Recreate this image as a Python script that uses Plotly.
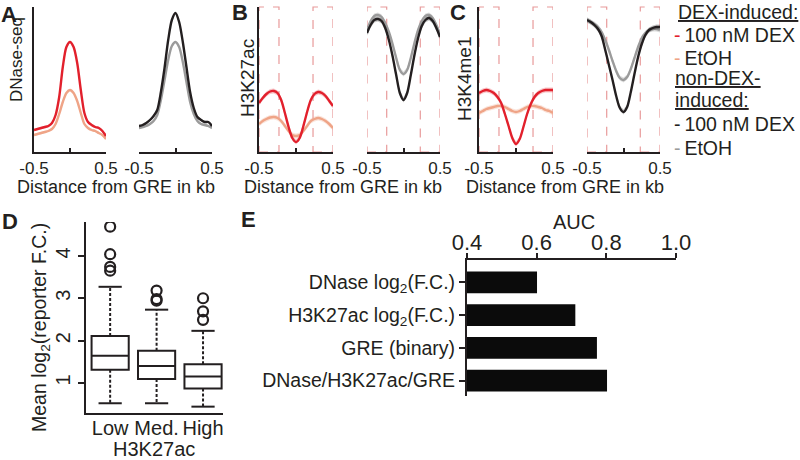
import plotly.graph_objects as go

FONT = "Liberation Sans, Arial, sans-serif"
INK = "#231f20"
W, H = 800, 460

# ---- profile data (A-C): signal vs distance from GRE, arbitrary units
dist_kb = [-0.5, -0.45, -0.4, -0.35, -0.3, -0.25, -0.2, -0.15, -0.1, -0.05, 0,
           0.05, 0.1, 0.15, 0.2, 0.25, 0.3, 0.35, 0.4, 0.45, 0.5]

dnase_ind_dex = [22, 23, 24, 25, 26, 29, 37, 55, 85, 105, 110, 105, 89, 62, 39, 30, 27, 25, 24, 21, 16]
dnase_ind_etoh = [17, 18, 19, 20, 21, 23, 28, 38, 50, 59, 62, 59, 51, 39, 28, 24, 22, 21, 19, 17, 13]
dnase_non_dex = [26, 27, 29, 32, 36, 42, 60, 84, 112, 132, 139, 130, 110, 85, 60, 44, 35, 32, 30, 30, 26]
dnase_non_etoh = [24, 25, 26, 28, 31, 37, 52, 72, 92, 106, 110, 105, 90, 70, 50, 38, 31, 28, 27, 26, 24]

k27_ind_dex = [49, 54, 58, 60.5, 61, 59, 52, 39, 25, 14, 10, 14, 26, 40, 52, 58, 60, 59, 56, 51, 46]
k27_ind_etoh = [28, 31, 33, 34.5, 35, 34, 31, 26, 21, 17, 16, 17, 21, 26, 31, 33, 34, 33, 31, 28, 24]
k27_non_dex = [119, 127, 132, 133, 131, 124, 112, 96, 77, 59, 52, 59, 77, 97, 114, 126, 132, 134, 131, 124, 115]
k27_non_etoh = [122, 131, 136, 137, 135, 129, 120, 108, 94, 82, 78, 82, 94, 109, 122, 131, 136, 137, 134, 127, 118]

k4_ind_dex = [59, 61, 62, 61, 59, 55, 49, 38, 26, 14, 8, 13, 25, 38, 48, 55, 59, 61, 62, 62, 62]
k4_ind_etoh = [39, 41, 43, 44, 45, 46, 46, 45, 43, 41, 40, 41, 43, 45, 46, 46, 45, 44, 42, 41, 39]
k4_non_dex = [132, 130, 127, 123, 116, 102, 87, 72, 56, 44, 40, 45, 60, 78, 95, 108, 117, 122, 124, 125, 125]
k4_non_etoh = [132, 130, 128, 125, 120, 112, 102, 91, 81, 74, 72, 75, 83, 94, 105, 114, 119, 122, 123, 123, 122]

sem_dnase = 1.2
sem_histone = 2.5
flank_kb = [(-0.5, -0.23), (0.23, 0.5)]

# ---- D: box plot stats
box_groups = ["Low", "Med.", "High"]
box_q1 = [1.31, 1.09, 0.87]
box_median = [1.64, 1.40, 1.15]
box_q3 = [2.11, 1.76, 1.44]
whisker_low = [0.52, 0.52, 0.44]
whisker_high = [3.27, 2.73, 2.23]
outliers = [[4.69, 4.04, 3.74, 3.65], [3.18, 2.98, 2.94], [3.00, 2.69, 2.49]]

# ---- E: AUC
auc_features = ["DNase log<sub>2</sub>(F.C.)", "H3K27ac log<sub>2</sub>(F.C.)",
                "GRE (binary)", "DNase/H3K27ac/GRE"]
auc_values = [0.601, 0.711, 0.773, 0.802]

RED = "#e2202c"
SALMON = "#efa487"
BLACK = "#231f20"
GRAY = "#9b9b9b"
BANDS = {RED: "rgba(226,32,44,0.25)", SALMON: "rgba(239,164,135,0.3)",
         BLACK: "rgba(35,31,32,0.25)", GRAY: "rgba(155,155,155,0.35)"}


def fx(p):
    return p / W


def fy(p):
    return 1 - p / H


def ax(i, kind):
    return kind + ("" if i == 1 else str(i))


fig = go.Figure()

profile_panels = [
    (1, (34, 106), [(dnase_ind_etoh, SALMON), (dnase_ind_dex, RED)], True, False, sem_dnase),
    (2, (139, 212), [(dnase_non_etoh, GRAY), (dnase_non_dex, BLACK)], False, False, sem_dnase),
    (3, (259, 333), [(k27_ind_etoh, SALMON), (k27_ind_dex, RED)], True, True, sem_histone),
    (4, (367, 440), [(k27_non_etoh, GRAY), (k27_non_dex, BLACK)], False, True, sem_histone),
    (5, (479, 553), [(k4_ind_etoh, SALMON), (k4_ind_dex, RED)], True, True, sem_histone),
    (6, (587, 660), [(k4_non_etoh, GRAY), (k4_non_dex, BLACK)], False, True, sem_histone),
]

shapes = []
layout_axes = {}
for i, (x0, x1), series, yline, flanks, sem in profile_panels:
    for vals, col in series:
        upper = [v + sem for v in vals]
        lower = [v - sem for v in vals]
        fig.add_trace(go.Scatter(
            x=dist_kb + dist_kb[::-1], y=upper + lower[::-1], fill="toself",
            fillcolor=BANDS[col], line=dict(width=0), hoverinfo="skip",
            showlegend=False, xaxis=ax(i, "x"), yaxis=ax(i, "y")))
        fig.add_trace(go.Scatter(
            x=dist_kb, y=vals, mode="lines",
            line=dict(color=col, width=2.4, shape="spline", smoothing=0.8),
            showlegend=False, xaxis=ax(i, "x"), yaxis=ax(i, "y")))
    layout_axes[ax(i, "xaxis")] = dict(
        domain=[fx(x0), fx(x1)], anchor=ax(i, "y"), range=[-0.5001, 0.5001],
        tickvals=[-0.5, 0, 0.5], ticktext=["-0.5", " ", "0.5"], tickangle=0,
        ticks="inside", ticklen=4, tickwidth=1.5, tickcolor=INK,
        showline=True, linecolor=INK, linewidth=1.5, showgrid=False, zeroline=False,
        automargin=False, tickfont=dict(size=17, color=INK, family=FONT))
    layout_axes[ax(i, "yaxis")] = dict(
        domain=[fy(152), fy(7)], anchor=ax(i, "x"), range=[0, 145],
        showline=yline, linecolor=INK, linewidth=2, showticklabels=False,
        automargin=False, ticks="", showgrid=False, zeroline=False)
    if flanks:
        for a, b in flank_kb:
            shapes.append(dict(
                type="rect", xref=ax(i, "x"), yref=ax(i, "y") + " domain",
                x0=a, x1=b, y0=0, y1=1, layer="below",
                line=dict(color="#e89a9a", width=1.2, dash="dash")))

# ---- D: box plot
xd, yd = "x7", "y7"
fig.add_trace(go.Box(
    x=[0, 1, 2], q1=box_q1, median=box_median, q3=box_q3,
    lowerfence=box_q1, upperfence=box_q3, width=0.8,
    fillcolor="white", line=dict(color=INK, width=2), boxpoints=False,
    whiskerwidth=0, showlegend=False, xaxis=xd, yaxis=yd))
for k in range(len(box_groups)):
    for a, b in [(box_q3[k], whisker_high[k]), (box_q1[k], whisker_low[k])]:
        fig.add_trace(go.Scatter(
            x=[k, k], y=[a, b], mode="lines",
            line=dict(color=INK, width=2, dash="3px,2px"),
            showlegend=False, xaxis=xd, yaxis=yd))
    for w in (whisker_high[k], whisker_low[k]):
        fig.add_trace(go.Scatter(
            x=[k - 0.25, k + 0.25], y=[w, w], mode="lines",
            line=dict(color=INK, width=2), showlegend=False, xaxis=xd, yaxis=yd))
    fig.add_trace(go.Scatter(
        x=[k] * len(outliers[k]), y=outliers[k], mode="markers",
        marker=dict(symbol="circle-open", size=10, color=INK, line=dict(width=2.2)),
        showlegend=False, xaxis=xd, yaxis=yd))

layout_axes["xaxis7"] = dict(
    domain=[fx(86), fx(223)], anchor="y7", range=[-0.52, 2.43],
    tickvals=[0, 1, 2], ticktext=box_groups, ticks="", tickangle=0,
    ticklabelstandoff=-4, automargin=False,
    showline=True, linecolor=INK, linewidth=2, showgrid=False, zeroline=False,
    tickfont=dict(size=20, color=INK, family=FONT))
layout_axes["yaxis7"] = dict(
    domain=[fy(413), fy(222)], anchor="x7", range=[0.29, 4.8],
    tickvals=[1, 2, 3, 4], tickangle=-90, ticks="outside", ticklen=6,
    tickwidth=2, tickcolor=INK, showline=True, linecolor=INK, linewidth=2,
    automargin=False,
    showgrid=False, zeroline=False, tickfont=dict(size=20, color=INK, family=FONT))

# ---- E: AUC bars
fig.add_trace(go.Bar(
    x=auc_values, y=list(range(len(auc_features))), orientation="h", width=0.66,
    marker=dict(color="#0b0b0b", line=dict(width=0)), showlegend=False,
    xaxis="x8", yaxis="y8"))
layout_axes["xaxis8"] = dict(
    domain=[fx(467), fx(676)], anchor="y8", side="top", range=[0.4, 1.0],
    tickvals=[0.4, 0.6, 0.8, 1.0], ticktext=["0.4", "0.6", "0.8", "1.0"],
    ticks="outside", ticklen=5, tickwidth=1.5, tickcolor=INK,
    ticklabelstandoff=-6, automargin=False,
    showline=True, linecolor=INK, linewidth=2, showgrid=False, zeroline=False,
    tickfont=dict(size=22, color=INK, family=FONT))
layout_axes["yaxis8"] = dict(
    domain=[fy(396), fy(260)], anchor="x8", range=[3.47, -0.685],
    tickvals=list(range(len(auc_features))), ticktext=auc_features,
    ticks="outside", ticklen=6, tickwidth=2, tickcolor=INK, automargin=False,
    showline=True, linecolor=INK, linewidth=2, showgrid=False, zeroline=False,
    tickfont=dict(size=19.5, color=INK, family=FONT))

# ---- text
annotations = []


def note(text, x, y, size, angle=0, xanchor="center", color=INK):
    annotations.append(dict(
        text=text, x=fx(x), y=fy(y), xref="paper", yref="paper",
        xanchor=xanchor, yanchor="middle", showarrow=False, textangle=angle,
        font=dict(size=size, color=color, family=FONT)))


for letter, x, y in [("A", 8.5, 14.5), ("B", 240, 12.5), ("C", 458, 12.5),
                     ("D", 9.5, 221.5), ("E", 248, 219)]:
    note("<b>%s</b>" % letter, x, y, 22)

note("DNase-seq", 16, 60, 17, -90)
note("H3K27ac", 247, 78, 19, -90)
note("H3K4me1", 464, 78, 19, -90)
for cx in (116, 343, 565):
    note("Distance from GRE in kb", cx, 187, 18)

note("Mean log<sub>2</sub>(reporter F.C.)", 40, 328, 19.5, -90)
note("H3K27ac", 154, 449, 20)
note("AUC", 574, 222, 20)

legend_rows = [
    ("<u>DEX-induced:</u>", None, 676, 11.5),
    ("100 nM DEX", RED, 672, 35),
    ("EtOH", SALMON, 672, 58),
    ("<u>non-DEX-</u>", None, 673, 78.5),
    ("<u>induced:</u>", None, 673, 100),
    ("100 nM DEX", BLACK, 672, 124.5),
    ("EtOH", GRAY, 672, 147.5),
]
for label, col, x, y in legend_rows:
    if col:
        label = '<span style="color:%s">-</span>\u2009%s' % (col, label)
    note(label, x, y, 19.5, xanchor="left")

fig.update_layout(
    width=W, height=H, margin=dict(l=0, r=0, t=0, b=0, autoexpand=False),
    paper_bgcolor="white", plot_bgcolor="white",
    font=dict(family=FONT, color=INK), showlegend=False,
    shapes=shapes, annotations=annotations, **layout_axes)

# the page body has a default 8px margin; drop it so the figure fills the window
fig.write_html("out.html", config={"displayModeBar": False},
               post_script="document.body.style.margin = '0';")
